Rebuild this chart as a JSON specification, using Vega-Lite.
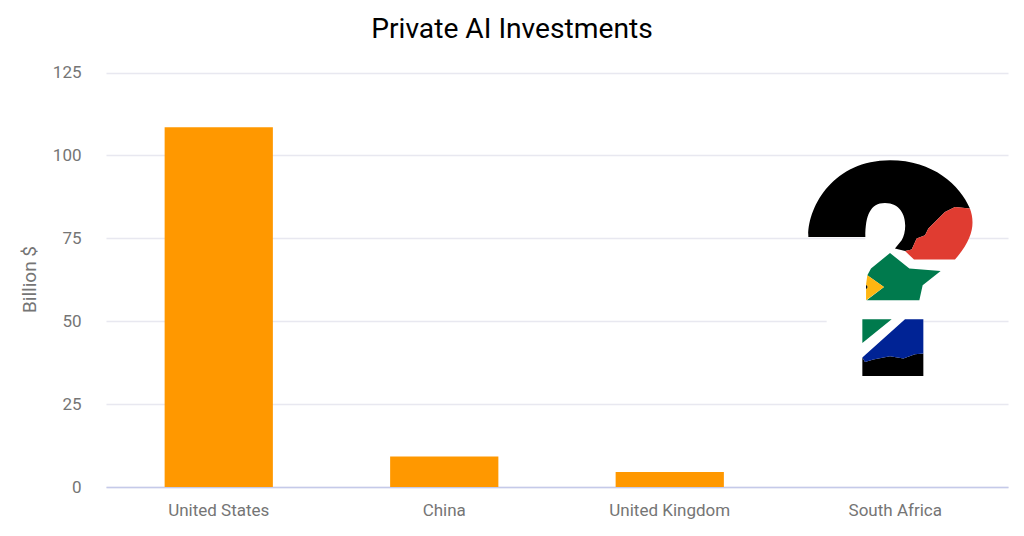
{
"$schema":"https://vega.github.io/schema/vega-lite/v6.json",
"width":902,"height":431,
"autosize":{"type":"none"},
"padding":{"left":106,"top":56,"right":16,"bottom":49},
"background":"white",
"title":{"text":"Private AI Investments","font":"Roboto","fontSize":28.2,"fontWeight":"normal","color":"#000000","anchor":"middle","dx":-45,"offset":12},
"data":{"values":[
{"country":"United States","value":108.5},
{"country":"China","value":9.2},
{"country":"United Kingdom","value":4.5},
{"country":"South Africa","value":0,"marker":65}
]},
"encoding":{
"x":{"field":"country","type":"nominal","sort":null,"title":null,"scale":{"paddingInner":0.52,"paddingOuter":0.26},
"axis":{"labelAngle":0,"labelFont":"Roboto","labelFontSize":17,"labelColor":"#757575","labelPadding":15,"ticks":false,"grid":false,"domainColor":"#c5cae9","domainWidth":1.5}}
},
"layer":[
{"mark":{"type":"bar","color":"#ff9800"},
"encoding":{"y":{"field":"value","type":"quantitative","title":"Billion $","scale":{"domain":[0,125]},
"axis":{"values":[0,25,50,75,100,125],"labelFont":"Roboto","labelFontSize":17,"labelColor":"#757575","labelPadding":25,"ticks":false,"domain":false,"gridColor":"#e8e8f0","gridWidth":1.5,"titleFont":"Roboto","titleFontSize":19,"titleFontWeight":"normal","titleColor":"#757575","titlePadding":13,"titleY":223}}}},
{"mark":{"type":"point","filled":true,"size":40000,"opacity":1,"strokeWidth":0,"color":"#ffffff","shape":"M-0.299,-0.36 L0.1,-0.36 L0.1,-0.3 L-0.299,-0.3 Z M-0.686,0.47 L0.281,0.47 L0.281,0.53 L-0.686,0.53 Z"},
"encoding":{"y":{"field":"marker","type":"quantitative"}}},
{"mark":{"type":"point","filled":true,"size":40000,"opacity":1,"strokeWidth":0,"color":"#000000","shape":"M-0.869,-0.345 C-0.879,-0.645 -0.619,-1.112 -0.0525,-1.112 C0.381,-1.112 0.6475,-0.862 0.747,-0.629 L0.597,-0.645 L0.497,-0.595 L0.414,-0.512 L0.331,-0.429 L0.298,-0.362 L0.214,-0.329 L0.164,-0.219 L0.098,-0.205 L-0.003,-0.229 L0.064,-0.312 C0.13,-0.42 0.12,-0.685 -0.103,-0.685 C-0.25,-0.685 -0.299,-0.56 -0.299,-0.345 Z M-0.292,0.13 L-0.273,0.155 L-0.292,0.18 Z M-0.329,0.861 L-0.3025,0.905 L-0.219,0.881 L-0.0525,0.848 L0.081,0.871 L0.1975,0.828 L0.281,0.821 L0.281,1.045 L-0.329,1.045 Z"},
"encoding":{"y":{"field":"marker","type":"quantitative"}}},
{"mark":{"type":"point","filled":true,"size":40000,"opacity":1,"strokeWidth":0,"color":"#e03c31","shape":"M0.747,-0.629 C0.80,-0.48 0.78,-0.33 0.597,-0.119 L0.1875,-0.119 L0.098,-0.205 L0.164,-0.219 L0.214,-0.329 L0.298,-0.362 L0.331,-0.429 L0.414,-0.512 L0.497,-0.595 L0.597,-0.645 Z"},
"encoding":{"y":{"field":"marker","type":"quantitative"}}},
{"mark":{"type":"point","filled":true,"size":40000,"opacity":1,"strokeWidth":0,"color":"#007a4d","shape":"M-0.2425,-0.029 L-0.279,0.038 L-0.1125,0.155 L-0.286,0.288 L0.241,0.288 L0.274,0.138 L0.454,-0.005 L0.141,-0.029 L-0.0525,-0.185 Z M-0.329,0.478 L-0.0358,0.478 L-0.329,0.715 Z"},
"encoding":{"y":{"field":"marker","type":"quantitative"}}},
{"mark":{"type":"point","filled":true,"size":40000,"opacity":1,"strokeWidth":0,"color":"#ffb612","shape":"M-0.279,0.038 L-0.1125,0.155 L-0.292,0.288 L-0.292,0.18 L-0.273,0.155 L-0.292,0.13 Z"},
"encoding":{"y":{"field":"marker","type":"quantitative"}}},
{"mark":{"type":"point","filled":true,"size":40000,"opacity":1,"strokeWidth":0,"color":"#002395","shape":"M0.0975,0.478 L0.281,0.478 L0.281,0.821 L0.1975,0.828 L0.081,0.871 L-0.0525,0.848 L-0.219,0.881 L-0.3025,0.905 L-0.329,0.861 Z"},
"encoding":{"y":{"field":"marker","type":"quantitative"}}}
],
"resolve":{"scale":{"y":"shared"}},
"config":{"view":{"stroke":null}}
}
